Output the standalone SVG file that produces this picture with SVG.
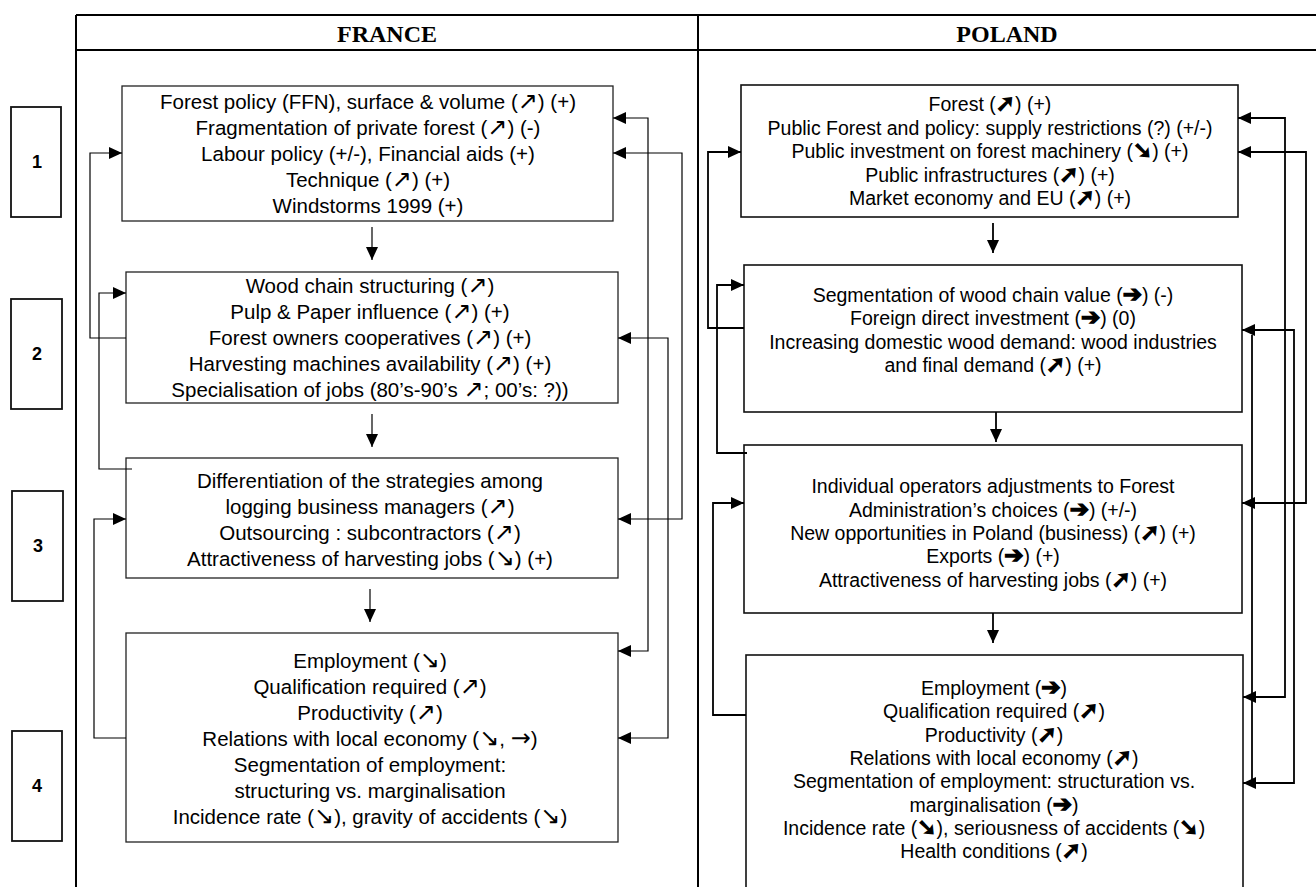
<svg xmlns="http://www.w3.org/2000/svg" width="1316" height="887" viewBox="0 0 1316 887">
<style>
.frame{fill:none;stroke:#000;stroke-width:2}
.num{fill:#fff;stroke:#111;stroke-width:1.8}
.numt{font-family:"Liberation Sans",Arial,sans-serif;font-weight:bold;font-size:18px;fill:#000;text-anchor:middle}
.hdr{font-family:"Liberation Serif","Times New Roman",serif;font-weight:bold;font-size:24px;fill:#000;text-anchor:middle}
.fbox{fill:#fff;stroke:#222;stroke-width:1.3}
.pbox{fill:#fff;stroke:#111;stroke-width:1.6}
.ft{font-family:"Liberation Sans",Arial,"DejaVu Sans",sans-serif;font-size:20.5px;fill:#000;text-anchor:middle}
.pt{font-family:"Liberation Sans",Arial,"DejaVu Sans",sans-serif;font-size:19.5px;fill:#000;text-anchor:middle}
.a{font-family:"DejaVu Sans",sans-serif;font-size:24px}
.b{font-family:"DejaVu Sans",sans-serif;font-weight:bold;font-size:23px;stroke:#000;stroke-width:1.4}
.fc{fill:none;stroke:#000;stroke-width:1.2}
.pc{fill:none;stroke:#000;stroke-width:1.8}
</style>
<defs>
<marker id="ah" markerUnits="userSpaceOnUse" markerWidth="14" markerHeight="12" refX="13" refY="6" orient="auto-start-reverse">
<path d="M0,0 L13,6 L0,12 Z" fill="#000"/>
</marker>
</defs>
<rect width="1316" height="887" fill="#fff"/>
<g id="table">
<path class="frame" d="M76,15 H1316 M76,50 H1316 M76,15 V887 M698,15 V887"/>
<text class="hdr" x="387" y="42">FRANCE</text>
<text class="hdr" x="1007" y="42">POLAND</text>
</g>
<g id="step1"><rect class="num" x="11" y="107" width="50" height="110"/><text class="numt" x="37" y="168">1</text></g>
<g id="step2"><rect class="num" x="11" y="299" width="51" height="110"/><text class="numt" x="37" y="360">2</text></g>
<g id="step3"><rect class="num" x="12" y="491" width="51" height="110"/><text class="numt" x="38" y="552">3</text></g>
<g id="step4"><rect class="num" x="12" y="731" width="50" height="110"/><text class="numt" x="37" y="792">4</text></g>

<g id="fr1">
<rect class="fbox" x="122" y="86" width="491" height="135"/>
<text class="ft" x="368" y="109">Forest policy (FFN), surface &amp; volume (<tspan class="a">↗</tspan>) (+)</text>
<text class="ft" x="368" y="135">Fragmentation of private forest (<tspan class="a">↗</tspan>) (-)</text>
<text class="ft" x="368" y="161">Labour policy (+/-), Financial aids (+)</text>
<text class="ft" x="368" y="187">Technique (<tspan class="a">↗</tspan>) (+)</text>
<text class="ft" x="368" y="213">Windstorms 1999 (+)</text>
</g>
<g id="fr2">
<rect class="fbox" x="126" y="272" width="492" height="131"/>
<text class="ft" x="370" y="293">Wood chain structuring (<tspan class="a">↗</tspan>)</text>
<text class="ft" x="370" y="319">Pulp &amp; Paper influence (<tspan class="a">↗</tspan>) (+)</text>
<text class="ft" x="370" y="345">Forest owners cooperatives (<tspan class="a">↗</tspan>) (+)</text>
<text class="ft" x="370" y="371">Harvesting machines availability (<tspan class="a">↗</tspan>) (+)</text>
<text class="ft" x="370" y="397">Specialisation of jobs (80’s-90’s <tspan class="a">↗</tspan>; 00’s: ?))</text>
</g>
<g id="fr3">
<rect class="fbox" x="126" y="458" width="492" height="120"/>
<text class="ft" x="370" y="488">Differentiation of the strategies among</text>
<text class="ft" x="370" y="514">logging business managers (<tspan class="a">↗</tspan>)</text>
<text class="ft" x="370" y="540">Outsourcing : subcontractors (<tspan class="a">↗</tspan>)</text>
<text class="ft" x="370" y="566">Attractiveness of harvesting jobs (<tspan class="a">↘</tspan>) (+)</text>
</g>
<g id="fr4">
<rect class="fbox" x="126" y="633" width="492" height="209"/>
<text class="ft" x="370" y="668">Employment (<tspan class="a">↘</tspan>)</text>
<text class="ft" x="370" y="694">Qualification required (<tspan class="a">↗</tspan>)</text>
<text class="ft" x="370" y="720">Productivity (<tspan class="a">↗</tspan>)</text>
<text class="ft" x="370" y="746">Relations with local economy (<tspan class="a">↘</tspan>, <tspan class="a">→</tspan>)</text>
<text class="ft" x="370" y="772">Segmentation of employment:</text>
<text class="ft" x="370" y="798">structuring vs. marginalisation</text>
<text class="ft" x="370" y="824">Incidence rate (<tspan class="a">↘</tspan>), gravity of accidents (<tspan class="a">↘</tspan>)</text>
</g>

<g id="pl1">
<rect class="pbox" x="741" y="85" width="497" height="132"/>
<text class="pt" x="990" y="111">Forest (<tspan class="b">➚</tspan>) (+)</text>
<text class="pt" x="990" y="135">Public Forest and policy: supply restrictions (?) (+/-)</text>
<text class="pt" x="990" y="158">Public investment on forest machinery (<tspan class="b">➘</tspan>) (+)</text>
<text class="pt" x="990" y="182">Public infrastructures (<tspan class="b">➚</tspan>) (+)</text>
<text class="pt" x="990" y="205">Market economy and EU (<tspan class="b">➚</tspan>) (+)</text>
</g>
<g id="pl2">
<rect class="pbox" x="744" y="265" width="498" height="147"/>
<text class="pt" x="993" y="302">Segmentation of wood chain value (<tspan class="b">➔</tspan>) (-)</text>
<text class="pt" x="993" y="325">Foreign direct investment (<tspan class="b">➔</tspan>) (0)</text>
<text class="pt" x="993" y="349">Increasing domestic wood demand: wood industries</text>
<text class="pt" x="993" y="372">and final demand (<tspan class="b">➚</tspan>) (+)</text>
</g>
<g id="pl3">
<rect class="pbox" x="744" y="445" width="498" height="168"/>
<text class="pt" x="993" y="493">Individual operators adjustments to Forest</text>
<text class="pt" x="993" y="517">Administration’s choices (<tspan class="b">➔</tspan>) (+/-)</text>
<text class="pt" x="993" y="540">New opportunities in Poland (business) (<tspan class="b">➚</tspan>) (+)</text>
<text class="pt" x="993" y="563">Exports (<tspan class="b">➔</tspan>) (+)</text>
<text class="pt" x="993" y="587">Attractiveness of harvesting jobs (<tspan class="b">➚</tspan>) (+)</text>
</g>
<g id="pl4">
<rect class="pbox" x="746" y="655" width="497" height="260"/>
<text class="pt" x="994" y="695">Employment (<tspan class="b">➔</tspan>)</text>
<text class="pt" x="994" y="718">Qualification required (<tspan class="b">➚</tspan>)</text>
<text class="pt" x="994" y="742">Productivity (<tspan class="b">➚</tspan>)</text>
<text class="pt" x="994" y="765">Relations with local economy (<tspan class="b">➚</tspan>)</text>
<text class="pt" x="994" y="788">Segmentation of employment: structuration vs.</text>
<text class="pt" x="994" y="812">marginalisation (<tspan class="b">➔</tspan>)</text>
<text class="pt" x="994" y="835">Incidence rate (<tspan class="b">➘</tspan>), seriousness of accidents (<tspan class="b">➘</tspan>)</text>
<text class="pt" x="994" y="858">Health conditions (<tspan class="b">➚</tspan>)</text>
</g>

<g id="connectors">
<path class="fc" d="M372,227 V260" marker-end="url(#ah)"/>
<path class="fc" d="M372,414 V447" marker-end="url(#ah)"/>
<path class="fc" d="M370,589 V622" marker-end="url(#ah)"/>
<path class="fc" d="M126,338 H90 V153 H122" marker-end="url(#ah)"/>
<path class="fc" d="M132,469 H99 V293 H126" marker-end="url(#ah)"/>
<path class="fc" d="M126,738 H94 V519 H126" marker-end="url(#ah)"/>
<path class="fc" d="M613,118 H648 V651 H618" marker-start="url(#ah)" marker-end="url(#ah)"/>
<path class="fc" d="M613,153 H682 V519 H618" marker-start="url(#ah)" marker-end="url(#ah)"/>
<path class="fc" d="M618,338 H668 V738 H618" marker-start="url(#ah)" marker-end="url(#ah)"/>

<path class="pc" d="M993,223 V253" marker-end="url(#ah)"/>
<path class="pc" d="M996,412 V442" marker-end="url(#ah)"/>
<path class="pc" d="M993,613 V643" marker-end="url(#ah)"/>
<path class="pc" d="M744,328 H708 V152 H741" marker-end="url(#ah)"/>
<path class="pc" d="M747,453 H717 V285 H744" marker-end="url(#ah)"/>
<path class="pc" d="M746,715 H713 V503 H744" marker-end="url(#ah)"/>
<path class="pc" d="M1238,118 H1285 V697 H1243" marker-start="url(#ah)" marker-end="url(#ah)"/>
<path class="pc" d="M1238,152 H1306 V503 H1242" marker-start="url(#ah)" marker-end="url(#ah)"/>
<path class="pc" d="M1242,330 H1294 V783 H1243" marker-start="url(#ah)" marker-end="url(#ah)"/>
<path class="pc" d="M1252,335 V783"/>
</g>
</svg>
